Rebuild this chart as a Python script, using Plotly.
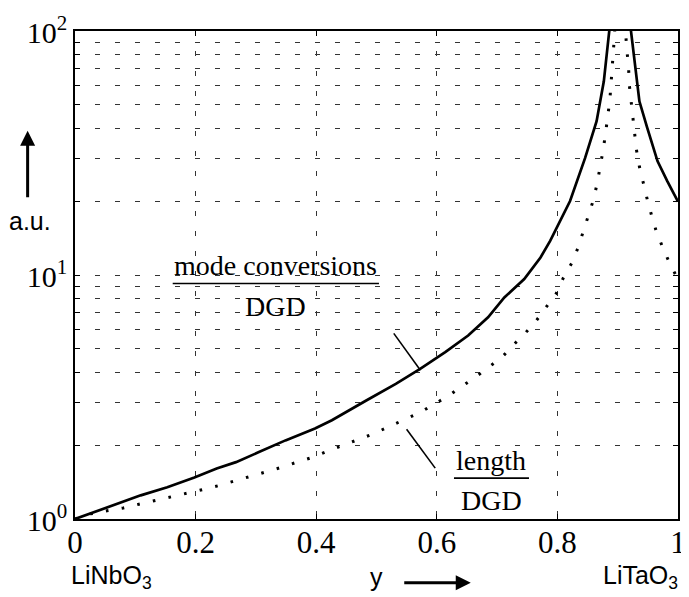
import plotly.graph_objects as go

# ---- data ----
y_mode = [0.0, 0.055, 0.109, 0.153, 0.198, 0.235, 0.267, 0.305, 0.349, 0.398, 0.426,
          0.483, 0.532, 0.573, 0.614, 0.652, 0.685, 0.712, 0.745, 0.772, 0.788, 0.821,
          0.846, 0.865, 0.877, 0.886, 0.904, 0.922, 0.936, 0.949, 0.966, 0.982, 1.0]
v_mode = [1.0, 1.12, 1.25, 1.35, 1.48, 1.61, 1.71, 1.88, 2.10, 2.35, 2.54,
          3.06, 3.58, 4.13, 4.83, 5.65, 6.71, 8.09, 9.62, 11.8, 13.8, 20.1,
          30.2, 42.7, 62.2, 100.0, 1000.0, 100.0, 51.5, 40.1, 29.3, 24.3, 20.0]

y_len = [0.0, 0.026, 0.053, 0.080, 0.106, 0.133, 0.159, 0.185, 0.212, 0.238, 0.264,
         0.290, 0.316, 0.343, 0.368, 0.394, 0.420, 0.445, 0.470, 0.496, 0.522, 0.547,
         0.572, 0.595, 0.619, 0.641, 0.664, 0.686, 0.708, 0.727, 0.747, 0.765, 0.782,
         0.798, 0.810, 0.824, 0.834, 0.843, 0.852, 0.860, 0.866, 0.871, 0.876, 0.880,
         0.884, 0.887, 0.889, 0.891, 0.893, 0.895, 0.904, 0.913, 0.915, 0.918, 0.919,
         0.922, 0.925, 0.927, 0.931, 0.936, 0.942, 0.949, 0.956, 0.964, 0.975, 0.986, 1.0]
v_len = [1.0, 1.05, 1.08, 1.11, 1.15, 1.19, 1.23, 1.27, 1.32, 1.37, 1.43,
         1.49, 1.56, 1.63, 1.71, 1.79, 1.90, 2.01, 2.12, 2.24, 2.40, 2.56,
         2.73, 2.95, 3.19, 3.49, 3.81, 4.19, 4.60, 5.17, 5.79, 6.50, 7.41,
         8.4, 9.75, 11.2, 12.9, 15.1, 17.6, 20.4, 23.8, 27.8, 32.7, 38.3,
         44.8, 52.3, 61.2, 72.1, 84.3, 98.6, 1000.0, 100.0, 84.0, 72.0, 61.0,
         52.0, 45.0, 38.0, 32.7, 27.8, 23.8, 20.4, 17.6, 15.1, 12.9, 11.2, 9.6]

x_tickvals = [0, 0.2, 0.4, 0.6, 0.8, 1.0]
x_ticktext = ["0", "0.2", "0.4", "0.6", "0.8", "1"]
y_tickvals = [m * 10 ** e for e in (0, 1) for m in range(1, 10)] + [100]
y_ticktext = ["10<sup>0</sup>"] + [""] * 8 + ["10<sup>1</sup>"] + [""] * 8 + ["10<sup>2</sup>"]

# ---- layout geometry (page pixels; the page body adds an 8px margin) ----
OFF = 8
W, H = 689 - OFF, 597 - OFF
L, R, T, B = 75, 686, 30, 519   # plot area in page pixels


def PX(px):
    return (px - L) / (R - L)


def PY(py):
    return (B - py) / (B - T)


SERIF = "Liberation Serif"
SANS = "Liberation Sans"

fig = go.Figure()
fig.add_trace(go.Scatter(x=y_mode, y=v_mode, mode="lines",
                         line=dict(color="black", width=2.7), showlegend=False))
fig.add_trace(go.Scatter(x=y_len, y=v_len, mode="lines",
                         line=dict(color="black", width=3, dash="2.6px,13.4px"),
                         showlegend=False))

grid = dict(showgrid=True, gridcolor="#333333", gridwidth=1, griddash="5px,15px")

fig.update_layout(
    width=W, height=H,
    margin=dict(l=L - OFF, r=W - (R - OFF), t=T - OFF, b=H - (B - OFF), pad=0),
    plot_bgcolor="white", paper_bgcolor="white",
    showlegend=False,
    xaxis=dict(range=[0, 1], tickvals=x_tickvals, ticktext=x_ticktext,
               ticks="inside", ticklen=5, tickcolor="black",
               showline=True, linecolor="black", linewidth=1.5, mirror="ticks",
               zeroline=False, ticklabelstandoff=-5, ticklabeloverflow="allow",
               tickfont=dict(family=SERIF, size=31, color="black"),
               **grid),
    yaxis=dict(type="log", range=[0, 2], tickvals=y_tickvals, ticktext=y_ticktext,
               ticks="inside", ticklen=5, tickcolor="black",
               showline=True, linecolor="black", linewidth=1.5, mirror="ticks",
               zeroline=False, ticklabelshift=1, ticklabeloverflow="allow",
               tickfont=dict(family=SERIF, size=30, color="black"),
               **grid),
)

ann = []


def txt(text, px, py, size, family, xanchor="center"):
    ann.append(dict(text=text, x=PX(px), y=PY(py), xref="paper", yref="paper",
                    xanchor=xanchor, yanchor="middle", showarrow=False,
                    font=dict(family=family, size=size, color="black")))


txt("mode conversions", 278, 265, 28, SERIF)
txt("DGD", 278, 306, 28, SERIF)
txt("length", 497, 460, 28, SERIF)
txt("DGD", 497, 500, 28, SERIF)
txt("a.u.", 29, 220, 25, SANS)
txt("LiNbO<sub>3</sub>", 112, 577, 25, SANS)
txt("LiTaO<sub>3</sub>", 688, 577, 25, SANS, xanchor="right")
txt("y", 381, 577, 25, SANS)

# arrows
ann.append(dict(text="", x=PX(27), y=PY(130), xref="paper", yref="paper",
                showarrow=True, ax=0, ay=68, arrowhead=2, arrowsize=1,
                arrowwidth=3, arrowcolor="black", standoff=0))
ann.append(dict(text="", x=PX(476), y=PY(583), xref="paper", yref="paper",
                showarrow=True, ax=-68, ay=0, arrowhead=2, arrowsize=1,
                arrowwidth=3, arrowcolor="black", standoff=0))
fig.update_layout(annotations=ann)

shapes = []


def seg(x0, y0, x1, y1, w=1.6):
    shapes.append(dict(type="line", xref="paper", yref="paper",
                       x0=PX(x0), y0=PY(y0), x1=PX(x1), y1=PY(y1),
                       line=dict(color="black", width=w)))


seg(174, 283, 383, 283)      # fraction bar mode conversions
seg(459, 478, 535, 478)      # fraction bar length
seg(398, 333, 425, 370)      # pointer to solid curve
seg(411, 429, 440, 468)      # pointer to dotted curve
fig.update_layout(shapes=shapes)

fig.write_html("out.html")
